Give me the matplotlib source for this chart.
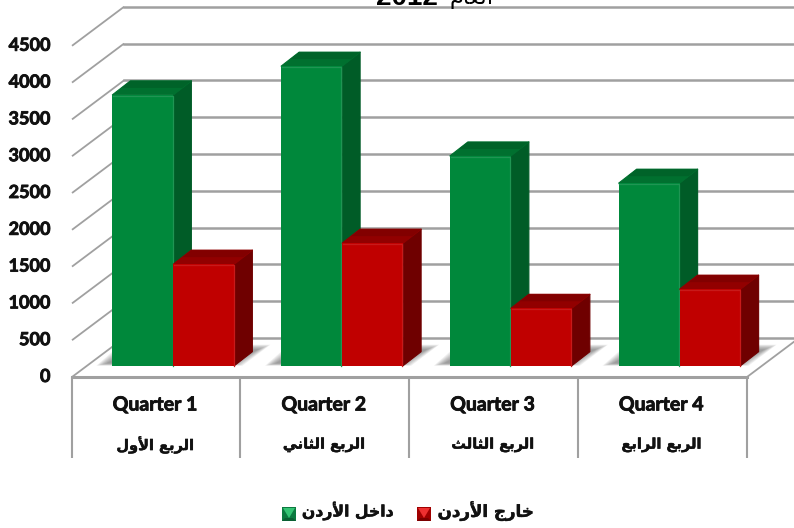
import matplotlib
matplotlib.use("Agg")
import matplotlib.pyplot as plt
import matplotlib.patheffects as pe
from matplotlib.patches import Polygon

categories_en = ["Quarter 1", "Quarter 2", "Quarter 3", "Quarter 4"]
categories_ar = ["الربع الأول", "الربع الثاني", "الربع الثالث", "الربع الرابع"]
inside_jordan = [3680, 4070, 2850, 2480]
outside_jordan = [1380, 1665, 780, 1040]
y_ticks = [0, 500, 1000, 1500, 2000, 2500, 3000, 3500, 4000, 4500]
legend_inside = "داخل الأردن"
legend_outside = "خارج الأردن"
title_year = "2012"
title_word = "العام"

W, H = 794, 528
X0, Y0 = 72, 377          # front left corner of the floor, in pixels
CAT_PX = 168.75           # pixels per category
VAL_PX = 36.8 / 500       # pixels per value unit
GRID = "#a0a0a0"
HEAVY = [pe.withStroke(linewidth=0.35, foreground="#111111")]
HEAVY_LATIN = [pe.withStroke(linewidth=0.6, foreground="#111111")]

# matplotlib does no arabic shaping, so pick the presentation forms by hand
FORMS = {
    "ا": (0xFE8D, 0xFE8E, None, None), "أ": (0xFE83, 0xFE84, None, None),
    "ر": (0xFEAD, 0xFEAE, None, None), "د": (0xFEA9, 0xFEAA, None, None),
    "و": (0xFEED, 0xFEEE, None, None),
    "ل": (0xFEDD, 0xFEDE, 0xFEDF, 0xFEE0), "ب": (0xFE8F, 0xFE90, 0xFE91, 0xFE92),
    "ع": (0xFEC9, 0xFECA, 0xFECB, 0xFECC), "ث": (0xFE99, 0xFE9A, 0xFE9B, 0xFE9C),
    "ن": (0xFEE5, 0xFEE6, 0xFEE7, 0xFEE8), "ي": (0xFEF1, 0xFEF2, 0xFEF3, 0xFEF4),
    "خ": (0xFEA5, 0xFEA6, 0xFEA7, 0xFEA8), "ج": (0xFE9D, 0xFE9E, 0xFE9F, 0xFEA0),
    "م": (0xFEE1, 0xFEE2, 0xFEE3, 0xFEE4),
}
LAM_ALEF = {"ا": (0xFEFB, 0xFEFC), "أ": (0xFEF7, 0xFEF8)}


def shape(text):
    out = []
    i, joined = 0, False
    while i < len(text):
        c = text[i]
        if c not in FORMS:
            out.append(c)
            joined = False
            i += 1
            continue
        nxt = text[i + 1] if i + 1 < len(text) else ""
        if c == "ل" and nxt in LAM_ALEF:
            out.append(chr(LAM_ALEF[nxt][1 if joined else 0]))
            joined = False
            i += 2
            continue
        iso, fin, ini, med = FORMS[c]
        to_next = ini is not None and nxt in FORMS
        if joined and to_next:
            code = med
        elif joined:
            code = fin
        elif to_next:
            code = ini
        else:
            code = iso
        out.append(chr(code))
        joined = to_next
        i += 1
    return "".join(reversed(out))


def dx(px):
    return px / CAT_PX


def dy(px):
    return px / VAL_PX


fig = plt.figure(figsize=(W / 100, H / 100), dpi=100)
ax = fig.add_axes([0, 0, 1, 1])
ax.set_xlim(-X0 / CAT_PX, (W - X0) / CAT_PX)
ax.set_ylim(-(H - Y0) / VAL_PX, Y0 / VAL_PX)
ax.axis("off")

# walls and floor
depth_x, depth_y = dx(52), dy(39)
n = len(categories_en)
for t in y_ticks:
    ax.plot([0, depth_x], [t, t + depth_y], color=GRID, lw=1.3, zorder=1, solid_capstyle="butt")
    ax.plot([depth_x, dx(W - X0 + 5)], [t + depth_y, t + depth_y], color=GRID, lw=1.8, zorder=1)
    ax.text(dx(-21.5), t + dy(0.5), str(t), ha="right", va="center", fontsize=13,
            fontweight="bold", family="Lato", color="#111111", path_effects=HEAVY_LATIN)
ax.plot([n, n + depth_x], [0, depth_y], color=GRID, lw=1.3, zorder=1)

ax.plot([0, n], [0, 0], color=GRID, lw=2.2, zorder=2)
for i in range(n + 1):
    ax.plot([i - dx(0.5), i - dx(0.5)], [0, dy(-81)], color=GRID, lw=1.5, zorder=2, solid_capstyle="butt")

# bars
bar_w = dx(61)
base_x, base_y = dx(17), dy(11.3)
side_x, side_y = dx(18), dy(14)
styles = [
    dict(front="#00883b", top="#00702f", back="#006329", side="#005c27", edge="#1f9553"),
    dict(front="#c00000", top="#920000", back="#820000", side="#6f0000", edge="#c81a1a"),
]


def draw_bar(x0, value, st, z):
    x1 = x0 + bar_w
    y0, y1 = base_y, value + base_y
    ax.add_patch(Polygon([(x1, y0), (x1 + side_x, y0 + side_y), (x1 + side_x, y1 + side_y), (x1, y1)],
                         fc=st["side"], ec=st["side"], lw=0.8, joinstyle="round", zorder=z))
    ax.add_patch(Polygon([(x0, y1), (x1, y1), (x1 + side_x, y1 + side_y), (x0 + side_x, y1 + side_y)],
                         fc=st["top"], ec=st["top"], lw=0.8, joinstyle="round", zorder=z))
    # darker back half of the top face
    ax.add_patch(Polygon([(x0 + side_x / 2, y1 + side_y / 2), (x1 + side_x / 2, y1 + side_y / 2),
                          (x1 + side_x, y1 + side_y), (x0 + side_x, y1 + side_y)],
                         fc=st["back"], ec="none", zorder=z))
    ax.add_patch(Polygon([(x0, y0), (x1, y0), (x1, y1), (x0, y1)], fc=st["front"], ec="none", zorder=z))
    ax.plot([x0 + dx(0.7), x1 - dx(0.7), x1 - dx(0.7)], [y1 - dy(0.7), y1 - dy(0.7), y0],
            color=st["edge"], lw=0.9, zorder=z + 0.1)


for i in range(n):
    mid = i + 0.5 + base_x
    # soft shadow on the floor
    for k in range(9):
        ax.add_patch(Polygon(
            [(mid - bar_w + dx(k * 1.3 - 16), base_y + dy(k * 0.3)),
             (mid + bar_w + dx(8 - k * 1.2), base_y + dy(k * 0.3)),
             (mid + bar_w + dx(36 - k * 1.5), base_y + dy(21 - k * 0.6)),
             (mid - bar_w + dx(k * 1.3 + 8), base_y + dy(21 - k * 0.6))],
            fc="#666666", ec="none", alpha=0.1, zorder=3))
    draw_bar(mid - bar_w, inside_jordan[i], styles[0], 4 + i)
    draw_bar(mid, outside_jordan[i], styles[1], 4.5 + i)

    ax.text(i + 0.5 - dx(1), dy(-28), categories_en[i], ha="center", va="center", fontsize=14,
            fontweight="bold", family="Lato", color="#111111", path_effects=HEAVY_LATIN)
    ax.text(i + 0.5 - dx(1), dy(-68), shape(categories_ar[i]), ha="center", va="center", fontsize=10.5,
            fontweight="bold", family="DejaVu Sans", color="#111111", path_effects=HEAVY)


def px_xy(x, y):
    return (x - X0) / CAT_PX, (Y0 - y) / VAL_PX


# title, cut off by the top edge
ax.text(*px_xy(407, 5), title_year, ha="center", va="baseline", fontsize=20, fontweight="bold",
        family="Liberation Sans", color="black")
ax.text(*px_xy(472, 4), shape(title_word), ha="center", va="baseline", fontsize=16,
        family="DejaVu Sans", color="black")


# legend
def legend_key(x, y, side, light, low):
    s = 14
    corners = [px_xy(x, y), px_xy(x + s, y), px_xy(x + s, y + s), px_xy(x, y + s)]
    ax.add_patch(Polygon(corners, fc=side, ec="none", zorder=20))
    ax.add_patch(Polygon([corners[3], corners[2], px_xy(x + s - 3, y + s - 3), px_xy(x + 3, y + s - 3)],
                         fc=low, ec="none", zorder=20))
    ax.add_patch(Polygon([px_xy(x + 1, y + 1), px_xy(x + s - 1, y + 1), px_xy(x + s / 2, y + s - 3)],
                         fc=light, ec="none", zorder=21))


legend_key(282, 507, "#0c7a40", "#35c474", "#0b5f33")
ax.text(*px_xy(348, 511), shape(legend_inside), ha="center", va="center", fontsize=11.3,
        fontweight="bold", family="DejaVu Sans", color="#111111", path_effects=HEAVY)
legend_key(417, 507, "#a00000", "#ee3030", "#7c0000")
ax.text(*px_xy(485.5, 511), shape(legend_outside), ha="center", va="center", fontsize=12,
        fontweight="bold", family="DejaVu Sans", color="#111111", path_effects=HEAVY)

fig.savefig("out.png", dpi=100, facecolor="white")
